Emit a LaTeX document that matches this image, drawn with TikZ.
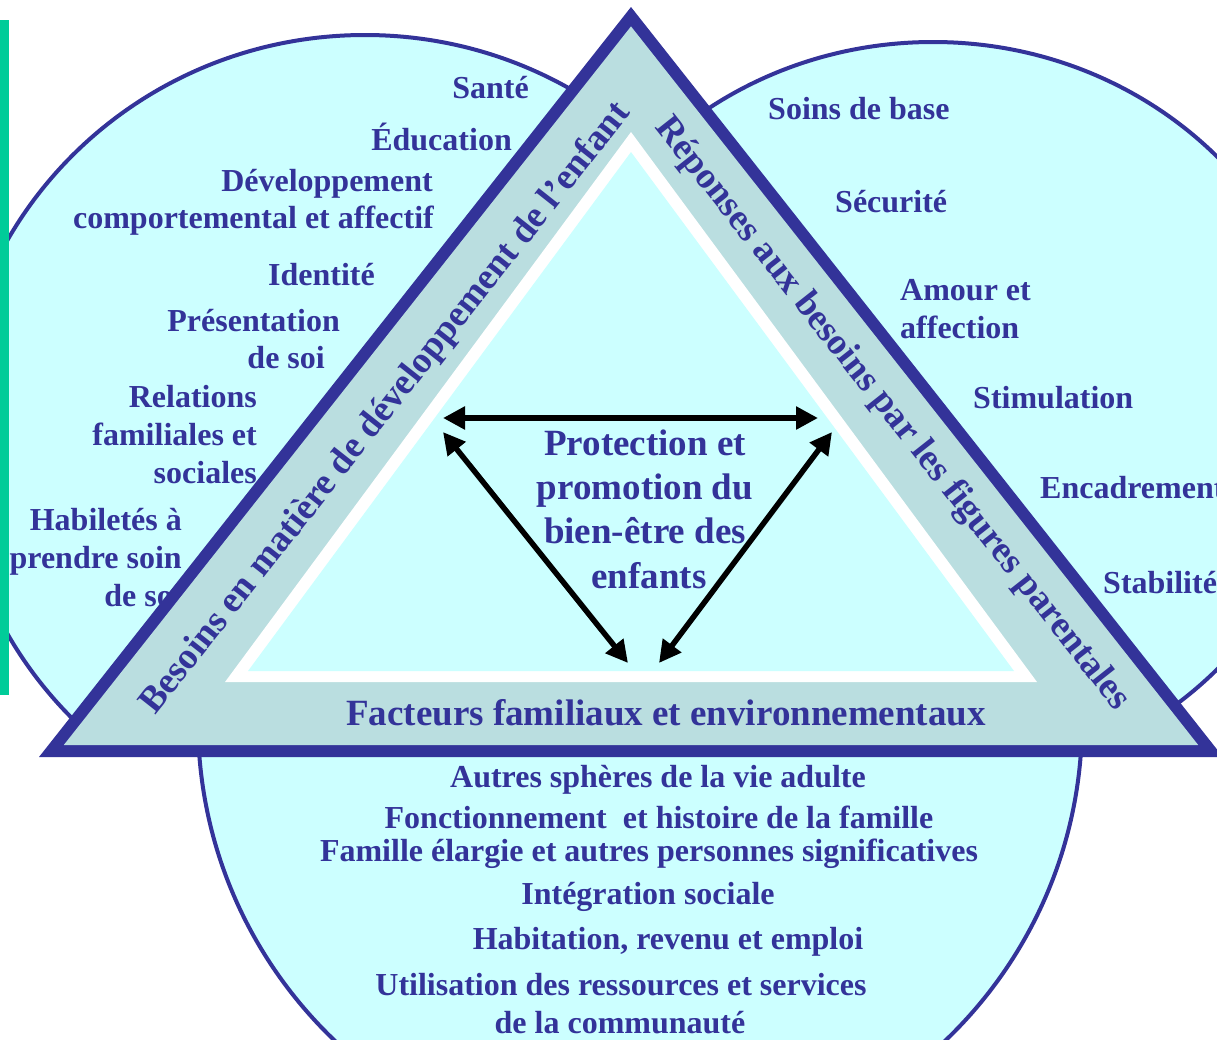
\documentclass[tikz,border=0pt]{standalone}
\usepackage{fontspec}
\setmainfont{Liberation Serif}
\usetikzlibrary{arrows.meta}
\definecolor{navy}{HTML}{333399}
\definecolor{lcyan}{HTML}{CCFFFF}
\definecolor{bandcol}{HTML}{BADEE0}
\definecolor{gbar}{HTML}{00CC99}
\tikzset{
  circ/.style={fill=lcyan, draw=navy, line width=4pt},
  lbl/.style={text=navy, font=\bfseries\fontsize{32}{38}\selectfont, inner sep=0pt},
  big/.style={text=navy, font=\bfseries\fontsize{37}{44}\selectfont, inner sep=0pt},
  dbl/.style={black, line width=5.5pt, {Triangle[length=22pt,width=22pt]}-{Triangle[length=22pt,width=22pt]}},
}
\begin{document}
\begin{tikzpicture}[x=1pt,y=-1pt]
\useasboundingbox (0,0) rectangle (1217,1039);
% circles
\begin{scope}
\clip (0,0) rectangle (1217,1039);
\draw[circ] (640,721) circle [radius=442pt];
\end{scope}
\begin{scope}
\clip (0,0) rectangle (1217,752);
\draw[circ] (365,437) ellipse [x radius=410pt, y radius=402pt];
\draw[circ] (933,413) ellipse [x radius=393pt, y radius=371pt];
\end{scope}
\fill[gbar] (0,20) rectangle (9,695);
% left list
\node[lbl, anchor=base east] (sante) at (529,98) {Santé};
\node[lbl, anchor=base east] (educ) at (512,150) {Éducation};
\node[lbl, anchor=base east] (dev1) at (433,191) {Développement};
\node[lbl, anchor=base east] (dev2) at (434,228) {comportemental et affectif};
\node[lbl, anchor=base east] (ident) at (375,285) {Identité};
\node[lbl, anchor=base east] (pres1) at (340,331) {Présentation};
\node[lbl, anchor=base east] (pres2) at (325,368) {de soi};
\node[lbl, anchor=base east] (rel1) at (257,407) {Relations};
\node[lbl, anchor=base east] (rel2) at (257,445) {familiales et};
\node[lbl, anchor=base east] (rel3) at (257,483) {sociales};
\node[lbl, anchor=base east] (hab1) at (182,530) {Habiletés à};
\node[lbl, anchor=base east] (hab2) at (182,568) {prendre soin};
\node[lbl, anchor=base east] (hab3) at (182,606) {de soi};
% right list
\node[lbl, anchor=base west] (soins) at (768,119) {Soins de base};
\node[lbl, anchor=base west] (secu) at (835,212) {Sécurité};
\node[lbl, anchor=base west] (amour1) at (900,300) {Amour et};
\node[lbl, anchor=base west] (amour2) at (900,338) {affection};
\node[lbl, anchor=base west] (stim) at (973,408) {Stimulation};
\node[lbl, anchor=base west] (encad) at (1040,498) {Encadrement};
\node[lbl, anchor=base west] (stab) at (1103,593) {Stabilité};
% bottom list
\node[lbl, anchor=base] (b1) at (658,787) {Autres sphères de la vie adulte};
\node[lbl, anchor=base] (b2) at (659,828) {Fonctionnement~ et histoire de la famille};
\node[lbl, anchor=base] (b3) at (649,861) {Famille élargie et autres personnes significatives};
\node[lbl, anchor=base] (b4) at (648,904) {Intégration sociale};
\node[lbl, anchor=base] (b5) at (668,949) {Habitation, revenu et emploi};
\node[lbl, anchor=base] (b6) at (621,995) {Utilisation des ressources et services};
\node[lbl, anchor=base] (b7) at (620,1033) {de la communauté};
% triangle
\fill[navy] (631,7) -- (39,757) -- (1223,757) -- cycle;
\fill[bandcol] (631,26.4) -- (63.8,745) -- (1198.2,745) -- cycle;
\fill[white] (631,132) -- (225,682) -- (1037,682) -- cycle;
\fill[lcyan] (631,152) -- (248,671) -- (1014,671) -- cycle;
% band labels
\node[big, rotate=51.7] (besoins) at (386,409) {Besoins en matière de développement de l’enfant};
\node[big, rotate=-51.7] (reponses) at (892,414) {Réponses aux besoins par les figures parentales};
\node[big, anchor=base] (facteurs) at (666,725) {Facteurs familiaux et environnementaux};
% centre
\node[big, anchor=base] (c1) at (645,455) {Protection et};
\node[big, anchor=base] (c2) at (645,499) {promotion du};
\node[big, anchor=base] (c3) at (645,543) {bien-être des};
\node[big, anchor=base] (c4) at (649,588) {enfants};
% arrows
\coordinate (hl) at (443,418);
\coordinate (hr) at (818,418);
\coordinate (dl1) at (443,432);
\coordinate (dl2) at (628,663);
\coordinate (dr1) at (832,432);
\coordinate (dr2) at (659,663);
\draw[dbl] (hl) -- (hr);
\draw[dbl] (dl1) -- (dl2);
\draw[dbl] (dr1) -- (dr2);
\end{tikzpicture}
\end{document}
